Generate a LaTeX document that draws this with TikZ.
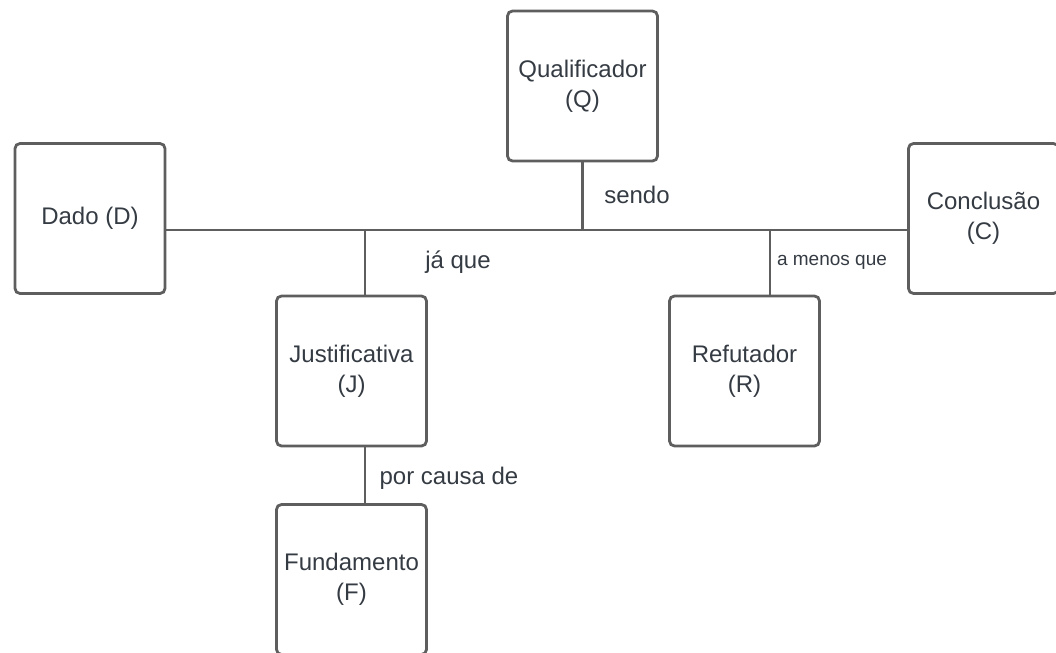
\documentclass[tikz,border=0pt]{standalone}
\usepackage{fontspec}
\setmainfont{Liberation Sans}
\definecolor{boxline}{HTML}{5E5E5E}
\definecolor{txt}{HTML}{353B43}
\begin{document}
\begin{tikzpicture}[x=0.5pt,y=-0.5pt,
    box/.style={draw=boxline,line width=1.4pt,rounded corners=2.5pt,
      minimum width=75pt,minimum height=75pt,inner sep=0pt,
      align=center,text=txt,font=\fontsize{12}{15}\selectfont},
    lbl/.style={text=txt,font=\fontsize{12}{14}\selectfont},
    lblsmall/.style={text=txt,font=\fontsize{9.5}{11}\selectfont},
    link/.style={draw=boxline,line width=1.3pt}]
  \useasboundingbox (0,0) rectangle (1056,653);
  \clip (0,0) rectangle (1056,653);
  \draw
    (582.5,86) node[box] (Q){Qualificador\\(Q)}
    (90,218.5) node[box] (D){Dado (D)}
    (983.5,218.5) node[box] (C){Conclusão\\(C)}
    (351.5,371) node[box] (J){Justificativa\\(J)}
    (744.5,371) node[box] (R){Refutador\\(R)}
    (351.5,579.5) node[box] (F){Fundamento\\(F)};
  \coordinate (bar) at (0,230);
  \coordinate (jx) at (365,0);
  \coordinate (rx) at (770,0);
  \begin{scope}[link]
    \draw (D.east |- bar) to (C.west |- bar);
    \draw (Q.south) to (Q.south |- bar);
    \draw (jx |- J.north) to (jx |- bar);
    \draw (rx |- R.north) to (rx |- bar);
    \draw (jx |- J.south) to (jx |- F.north);
  \end{scope}
  \draw
    (637,195) node[lbl] (sendo){sendo}
    (458,262) node[lbl] (jaque){já que}
    (832,262) node[lblsmall] (amenos){a menos que}
    (449,478) node[lbl] (porcausa){por causa de};
\end{tikzpicture}
\end{document}
